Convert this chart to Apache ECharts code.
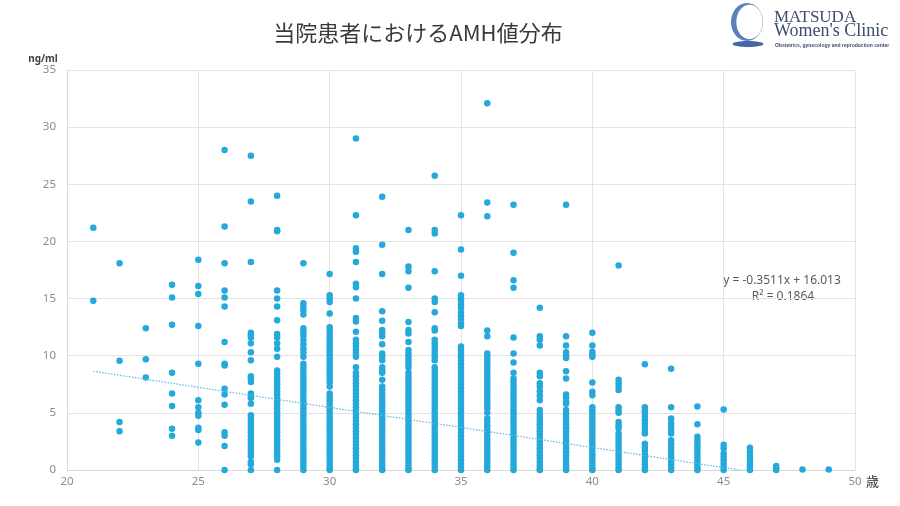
<!DOCTYPE html>
<html>
<head>
<meta charset="utf-8">
<script src="https://cdn.jsdelivr.net/npm/echarts@6/dist/echarts.min.js"></script>
<style>html,body{margin:0;padding:0;background:#fff}#c{width:900px;height:506px}</style>
</head>
<body>
<div id="c"></div>
<script>
// ---- data ----
const titleText = '当院患者におけるAMH値分布';
const ages = [21,22,23,24,25,26,27,28,29,30,31,32,33,34,35,36,37,38,39,40,41,42,43,44,45,46,47,48,49];
const amh21 = [21.2, 14.8];
const amh22 = [18.1, 9.55, 4.2, 3.4];
const amh23 = [12.4, 9.7, 8.1];
const amh24 = [16.2, 15.1, 12.7, 8.5, 6.7, 5.6, 3.6, 3.0];
const amh25 = [18.4, 16.1, 15.4, 12.6, 9.3, 6.1, 5.5, 5.0, 4.75, 3.7, 3.5, 2.4];
const amh26 = [28.0, 21.3, 18.1, 15.7, 15.1, 14.3, 11.2, 9.3, 9.15, 7.1, 6.6, 5.7, 3.3, 3.0, 2.1, 0.0];
const amh27 = [27.5, 23.5, 18.2, 12.0, 11.8, 11.6, 11.1, 10.3, 9.6, 8.2, 8.0, 7.7, 6.7, 6.5, 6.3, 5.8, 4.8, 4.5, 4.2, 3.9, 3.6, 3.3, 3.0, 2.7, 2.4, 2.1, 1.8, 1.5, 1.2, 0.7, 0.5, 0.0];
const amh28 = [24.0, 21.0, 20.9, 15.7, 15.0, 14.3, 13.1, 11.9, 11.6, 11.1, 10.6, 9.9, 8.7, 8.4, 8.1, 7.8, 7.5, 7.2, 6.9, 6.6, 6.3, 6.0, 5.7, 5.4, 5.1, 4.8, 4.5, 4.2, 3.9, 3.6, 3.3, 3.0, 2.7, 2.4, 2.1, 1.8, 1.5, 1.2, 0.9, 0.0];
const amh29 = [18.1, 14.6, 14.3, 14.0, 13.6, 12.4, 12.1, 11.8, 11.4, 11.0, 10.6, 10.3, 9.9, 9.3, 9.0, 8.7, 8.4, 8.1, 7.8, 7.5, 7.2, 6.9, 6.6, 6.3, 6.0, 5.7, 5.4, 5.1, 4.8, 4.5, 4.2, 3.9, 3.6, 3.3, 3.0, 2.7, 2.4, 2.1, 1.8, 1.5, 1.2, 0.9, 0.6, 0.3, 0.0];
const amh30 = [17.15, 15.3, 15.0, 14.7, 13.7, 12.5, 12.2, 11.9, 11.6, 11.3, 11.0, 10.7, 10.4, 10.1, 9.8, 9.5, 9.2, 8.9, 8.6, 8.3, 8.0, 7.7, 7.3, 6.7, 6.4, 6.1, 5.8, 5.5, 5.2, 4.9, 4.6, 4.3, 4.0, 3.7, 3.4, 3.1, 2.8, 2.5, 2.2, 1.9, 1.6, 1.3, 1.0, 0.7, 0.4, 0.1, 0.0];
const amh31 = [29.0, 22.3, 19.4, 19.1, 18.2, 16.3, 16.0, 15.0, 13.3, 13.0, 12.1, 11.4, 11.1, 10.8, 10.5, 10.2, 9.9, 9.0, 8.5, 8.2, 7.9, 7.6, 7.3, 7.0, 6.7, 6.4, 6.1, 5.8, 5.5, 5.2, 4.9, 4.6, 4.3, 4.0, 3.7, 3.4, 3.1, 2.8, 2.5, 2.2, 1.9, 1.6, 1.3, 1.0, 0.7, 0.4, 0.1, 0.0];
const amh32 = [23.9, 19.7, 17.15, 13.9, 13.05, 12.25, 12.0, 11.7, 11.0, 10.2, 9.9, 9.6, 9.0, 8.7, 8.5, 7.9, 7.3, 7.0, 6.7, 6.4, 6.1, 5.8, 5.5, 5.2, 4.9, 4.6, 4.3, 4.0, 3.7, 3.4, 3.1, 2.8, 2.5, 2.2, 1.9, 1.6, 1.3, 1.0, 0.7, 0.4, 0.1, 0.0];
const amh33 = [21.0, 17.8, 17.4, 15.95, 12.95, 12.25, 11.95, 11.2, 10.5, 10.2, 9.9, 9.6, 9.3, 9.0, 8.5, 8.2, 7.9, 7.6, 7.3, 7.0, 6.7, 6.4, 6.1, 5.8, 5.5, 5.2, 4.9, 4.6, 4.3, 4.0, 3.7, 3.4, 3.1, 2.8, 2.5, 2.2, 1.9, 1.6, 1.3, 1.0, 0.7, 0.4, 0.1, 0.0];
const amh34 = [25.75, 21.0, 20.7, 17.4, 15.0, 14.7, 13.8, 12.4, 12.2, 11.4, 11.1, 10.8, 10.5, 10.2, 9.9, 9.6, 9.0, 8.7, 8.4, 8.1, 7.8, 7.5, 7.2, 6.9, 6.6, 6.3, 6.0, 5.7, 5.4, 5.1, 4.8, 4.5, 4.2, 3.9, 3.6, 3.3, 3.0, 2.7, 2.4, 2.1, 1.8, 1.5, 1.2, 0.9, 0.6, 0.3, 0.0];
const amh35 = [22.3, 19.3, 17.0, 15.3, 15.0, 14.8, 14.5, 14.2, 13.8, 13.5, 13.2, 12.8, 12.6, 10.8, 10.5, 10.2, 9.9, 9.6, 9.3, 9.0, 8.7, 8.4, 8.1, 7.8, 7.5, 7.2, 6.9, 6.6, 6.3, 6.0, 5.7, 5.4, 5.1, 4.8, 4.5, 4.2, 3.9, 3.6, 3.3, 3.0, 2.7, 2.4, 2.1, 1.8, 1.5, 1.2, 0.9, 0.6, 0.3, 0.0];
const amh36 = [32.1, 23.4, 22.2, 12.2, 11.7, 10.2, 9.9, 9.6, 9.3, 9.0, 8.7, 8.4, 8.1, 7.8, 7.5, 7.2, 6.9, 6.6, 6.3, 6.0, 5.7, 5.4, 5.0, 4.5, 4.2, 3.9, 3.6, 3.3, 3.0, 2.7, 2.4, 2.1, 1.8, 1.5, 1.2, 0.9, 0.6, 0.3, 0.0];
const amh37 = [23.2, 19.0, 16.6, 15.95, 11.6, 10.2, 9.4, 8.5, 8.0, 7.7, 7.4, 7.1, 6.8, 6.5, 6.2, 5.9, 5.6, 5.3, 5.0, 4.7, 4.4, 4.1, 3.8, 3.5, 3.2, 2.9, 2.6, 2.3, 2.0, 1.7, 1.4, 1.1, 0.8, 0.5, 0.2, 0.0];
const amh38 = [14.2, 11.7, 11.4, 10.9, 8.5, 8.2, 7.6, 7.3, 6.9, 6.5, 6.1, 5.25, 4.9, 4.6, 4.3, 4.0, 3.7, 3.4, 3.1, 2.8, 2.5, 2.2, 1.9, 1.6, 1.3, 1.0, 0.7, 0.4, 0.1, 0.0];
const amh39 = [23.2, 11.7, 10.9, 10.3, 10.0, 9.8, 8.65, 8.0, 6.6, 6.3, 6.0, 5.8, 5.25, 4.9, 4.6, 4.3, 4.0, 3.7, 3.4, 3.1, 2.8, 2.5, 2.2, 1.9, 1.6, 1.3, 1.0, 0.7, 0.4, 0.1, 0.0];
const amh40 = [12.0, 10.9, 10.35, 10.1, 9.9, 7.65, 6.85, 6.55, 5.5, 5.2, 4.9, 4.6, 4.3, 4.0, 3.7, 3.4, 3.1, 2.8, 2.5, 2.2, 1.9, 1.6, 1.3, 1.0, 0.7, 0.4, 0.1, 0.0];
const amh41 = [17.9, 7.9, 7.6, 7.3, 7.0, 5.5, 5.2, 5.0, 4.2, 3.9, 3.65, 3.2, 2.9, 2.6, 2.3, 2.0, 1.7, 1.4, 1.1, 0.8, 0.5, 0.2, 0.0];
const amh42 = [9.25, 5.5, 5.2, 5.0, 4.7, 4.4, 4.1, 3.8, 3.5, 3.2, 2.3, 2.0, 1.7, 1.4, 1.1, 0.8, 0.5, 0.2, 0.0];
const amh43 = [8.85, 5.5, 4.5, 4.1, 3.8, 3.5, 3.2, 2.6, 2.3, 2.0, 1.7, 1.4, 1.1, 0.8, 0.5, 0.2, 0.0];
const amh44 = [5.55, 4.0, 2.9, 2.6, 2.3, 2.0, 1.7, 1.4, 1.1, 0.8, 0.5, 0.2, 0.0];
const amh45 = [5.3, 2.2, 1.9, 1.45, 1.15, 0.85, 0.55, 0.25, 0.0];
const amh46 = [1.95, 1.6, 1.3, 1.0, 0.7, 0.4, 0.1, 0.0];
const amh47 = [0.35, 0.15, 0.0];
const amh48 = [0.05];
const amh49 = [0.05];
const amhByAge = [amh21,amh22,amh23,amh24,amh25,amh26,amh27,amh28,amh29,amh30,amh31,amh32,amh33,amh34,amh35,amh36,amh37,amh38,amh39,amh40,amh41,amh42,amh43,amh44,amh45,amh46,amh47,amh48,amh49];
const trendSlope = -0.3511, trendIntercept = 16.013;
const trendRange = [21, 46];
const eqLine1 = 'y = -0.3511x + 16.013';
const eqLine2 = 'R² = 0.1864';

// ---- build ----
const points = [];
ages.forEach((a, i) => amhByAge[i].forEach(v => points.push([a, v])));
const trend = trendRange.map(x => [x, trendSlope * x + trendIntercept]);

const chart = echarts.init(document.getElementById('c'), null, {renderer: 'canvas'});
const axisFont = 'Noto Sans';
chart.setOption({
  animation: false,
  backgroundColor: '#ffffff',
  grid: {left: 67, right: 45, top: 70, bottom: 36},
  xAxis: {
    type: 'value', min: 20, max: 50, interval: 5,
    axisLine: {show: true, lineStyle: {color: '#d9d9d9'}},
    axisTick: {show: false},
    axisLabel: {color: '#8c8c8c', fontSize: 11.5, fontFamily: axisFont, margin: 6},
    splitLine: {show: true, lineStyle: {color: '#e3e3e3', width: 1}}
  },
  yAxis: {
    type: 'value', min: 0, max: 35, interval: 5,
    axisLine: {show: true, lineStyle: {color: '#d9d9d9'}},
    axisTick: {show: false},
    axisLabel: {color: '#8c8c8c', fontSize: 11.5, fontFamily: axisFont, margin: 11},
    splitLine: {show: true, lineStyle: {color: '#e3e3e3', width: 1}}
  },
  series: [
    {
      type: 'scatter', data: points, symbolSize: 6.5, clip: false,
      itemStyle: {color: '#25a8da', opacity: 1}
    },
    {
      type: 'line', data: trend, symbol: 'none', clip: true,
      lineStyle: {color: '#5db8e0', width: 1.2, type: [1.5, 1.5]}
    }
  ],
  graphic: [
    {type: 'text', position: [418, 33], style: {text: titleText, fill: '#3a3a3a', font: '22px "Noto Sans CJK JP"', textAlign: 'center', textVerticalAlign: 'middle'}},
    {type: 'text', position: [43, 59], style: {text: 'ng/ml', fill: '#404040', font: 'bold 10px "Noto Sans"', textAlign: 'center', textVerticalAlign: 'middle'}},
    {type: 'text', position: [866, 481], style: {text: '歳', fill: '#333', font: '13px "Noto Sans CJK JP"', textAlign: 'left', textVerticalAlign: 'middle'}},
    {type: 'text', position: [782, 281], style: {text: eqLine1, fill: '#595959', font: '12px "Noto Sans"', textAlign: 'center', textVerticalAlign: 'middle'}},
    {type: 'text', position: [783, 297], style: {text: eqLine2, fill: '#595959', font: '12px "Noto Sans"', textAlign: 'center', textVerticalAlign: 'middle'}},
    // logo
    {type: 'ellipse', shape: {cx: 747, cy: 22, rx: 16, ry: 19}, style: {fill: '#5b7fbf'}},
    {type: 'ellipse', shape: {cx: 749.5, cy: 22, rx: 13.2, ry: 17.2}, style: {fill: '#ffffff'}},
    {type: 'ellipse', shape: {cx: 748, cy: 44, rx: 15.5, ry: 3}, style: {fill: '#4467a6'}},
    {type: 'text', position: [774, 26], style: {text: 'MATSUDA', fill: '#3d4c6e', font: '17px "Liberation Serif"', textAlign: 'left', textVerticalAlign: 'bottom'}},
    {type: 'text', position: [774, 40], style: {text: "Women's Clinic", fill: '#3d4c6e', font: '18px "Liberation Serif"', textAlign: 'left', textVerticalAlign: 'bottom'}},
    {type: 'text', position: [775, 45.5], style: {text: 'Obstetrics, gynecology and reproduction center', fill: '#3d4c6e', font: 'bold 5px "Liberation Sans"', textAlign: 'left', textVerticalAlign: 'middle'}}
  ]
});
</script>
</body>
</html>
